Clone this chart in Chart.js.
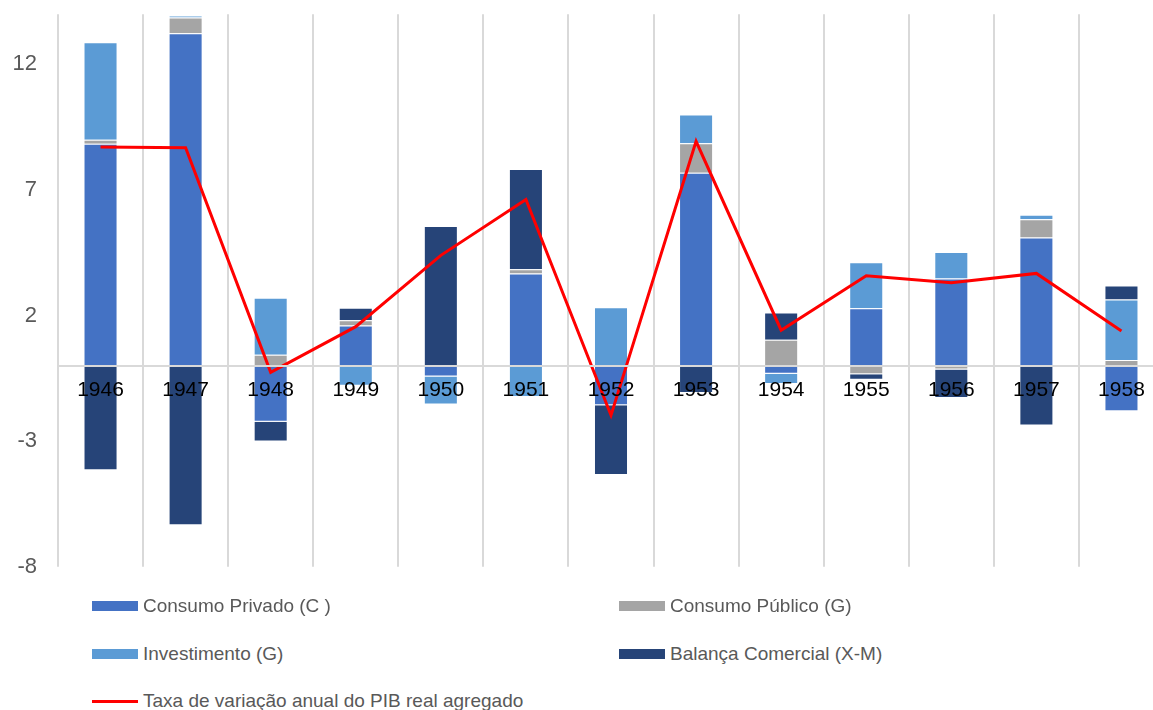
<!DOCTYPE html>
<html>
<head>
<meta charset="utf-8">
<script src="https://cdn.jsdelivr.net/npm/chart.js@4/dist/chart.umd.min.js"></script>
<style>
  html, body { margin: 0; padding: 0; width: 1153px; height: 710px; overflow: hidden; background: #fff; }
  #wrap { position: absolute; left: 0; top: -20px; width: 1170px; height: 621px; }
  .leg { position: absolute; font-family: "Liberation Sans", Arial, sans-serif; font-size: 19px; color: #595959; line-height: 22px; white-space: nowrap; }
  .sw { position: absolute; }
</style>
</head>
<body>
<div id="wrap"><canvas id="c" width="1170" height="621"></canvas></div>
<div id="legend"></div>
<script>
const years = ["1946","1947","1948","1949","1950","1951","1952","1953","1954","1955","1956","1957","1958"];
const consumoPrivado = [8.84, 13.24, -2.23, 1.61, -0.42, 3.68, -1.57, 7.69, -0.31, 2.29, 3.48, 5.11, -1.81];
const consumoPublico = [0.16, 0.63, 0.44, 0.21, 0, 0.17, 0, 1.17, 1.04, -0.33, -0.15, 0.73, 0.23];
const investimento = [3.88, 0.08, 2.27, -0.79, -1.12, -1.24, 2.33, 1.15, -0.41, 1.83, 1.05, 0.18, 2.41];
const balancaComercial = [-4.16, -6.35, -0.78, 0.49, 5.57, 3.99, -2.78, -1.08, 1.08, -0.22, -1.13, -2.37, 0.56];
const taxaPIB = [8.71, 8.68, -0.26, 1.56, 4.4, 6.62, -1.97, 8.94, 1.42, 3.59, 3.31, 3.68, 1.39];
const yTicks = [-8, -3, 2, 7, 12];

const seriesNames = ["Consumo Privado (C )", "Consumo Público (G)", "Investimento (G)", "Balança Comercial (X-M)", "Taxa de variação anual do PIB real agregado"];
const colors = ["#4472C4", "#A5A5A5", "#5B9BD5", "#264478", "#FF0000"];

function barDs(label, data, color) {
  return { type: 'bar', label, data, backgroundColor: color, borderColor: 'rgba(255,255,255,0.35)', borderWidth: 1,
           barPercentage: 0.4, categoryPercentage: 1, order: 1, stack: 'bars' };
}

new Chart(document.getElementById('c'), {
  data: {
    labels: years,
    datasets: [
      { type: 'line', label: seriesNames[4], data: taxaPIB, borderColor: colors[4], borderWidth: 3,
        pointRadius: 0, fill: false, tension: 0, order: 0, stack: 'line' },
      barDs(seriesNames[0], consumoPrivado, colors[0]),
      barDs(seriesNames[1], consumoPublico, colors[1]),
      barDs(seriesNames[2], investimento, colors[2]),
      barDs(seriesNames[3], balancaComercial, colors[3])
    ]
  },
  options: {
    responsive: false,
    animation: false,
    layout: { padding: { top: 0, bottom: 0, right: 6, left: 0 } },
    plugins: { legend: { display: false }, tooltip: { enabled: false } },
    scales: {
      x: {
        stacked: true,
        position: { y: 0 },
        grid: { color: '#D9D9D9', lineWidth: 2, drawTicks: false, offset: true, z: -1 },
        border: { color: '#D9D9D9', width: 2, z: 1 },
        ticks: { z: 2, color: '#000', padding: 12, font: { family: '"Liberation Sans", Arial, sans-serif', size: 21 }, maxRotation: 0 }
      },
      y: {
        stacked: true,
        min: -8, max: 14,
        grid: { display: false, drawTicks: false },
        border: { display: false },
        afterBuildTicks: (s) => { s.ticks = yTicks.map(v => ({ value: v })); },
        afterFit: (s) => { s.width = 58; },
        ticks: { color: '#595959', padding: 21, font: { family: '"Liberation Sans", Arial, sans-serif', size: 22 } }
      }
    }
  }
});

// Legend (HTML)
const legendItems = [
  { i: 0, x: 92, y: 606, kind: 'bar' },
  { i: 1, x: 619, y: 606, kind: 'bar' },
  { i: 2, x: 92, y: 654, kind: 'bar' },
  { i: 3, x: 619, y: 654, kind: 'bar' },
  { i: 4, x: 92, y: 701, kind: 'line' }
];
const lg = document.getElementById('legend');
legendItems.forEach(it => {
  const sw = document.createElement('div');
  sw.className = 'sw';
  const h = it.kind === 'bar' ? 10 : 3;
  sw.style.left = it.x + 'px';
  sw.style.top = (it.y - h / 2) + 'px';
  sw.style.width = '46px';
  sw.style.height = h + 'px';
  sw.style.background = colors[it.i];
  lg.appendChild(sw);
  const t = document.createElement('div');
  t.className = 'leg';
  t.style.left = (it.x + 51) + 'px';
  t.style.top = (it.y - 11) + 'px';
  t.textContent = seriesNames[it.i];
  lg.appendChild(t);
});
</script>
</body>
</html>
